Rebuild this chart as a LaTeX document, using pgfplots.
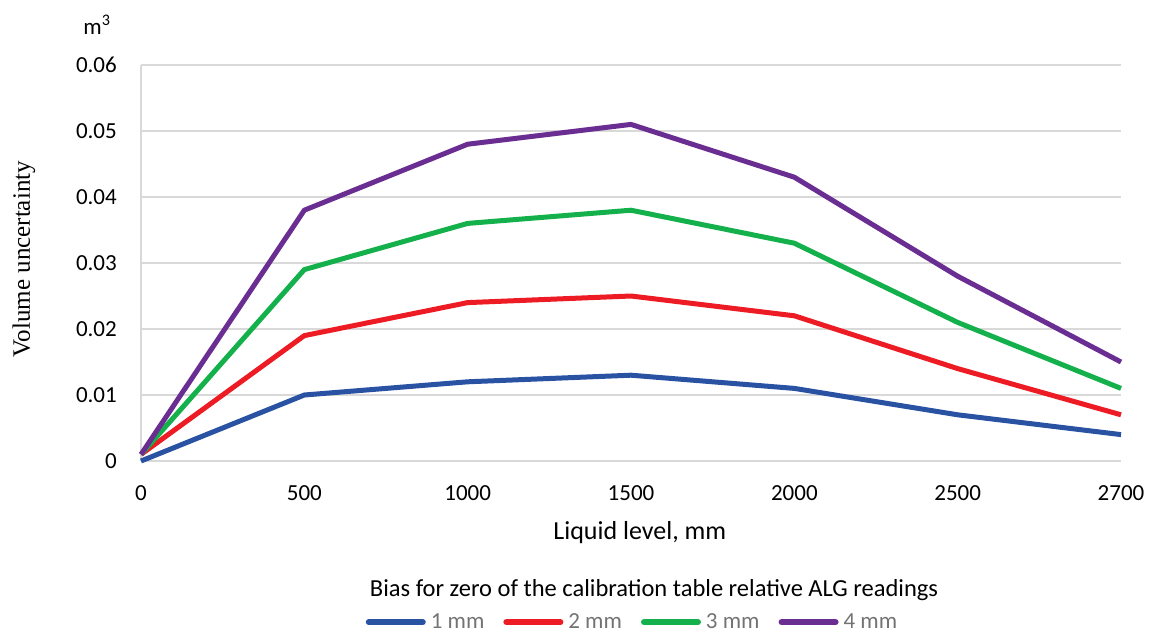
\documentclass[border=0pt]{standalone}
\usepackage{fontspec}
\setmainfont{Carlito}
\newfontfamily\timesfont{Liberation Serif}
\usepackage{pgfplots}
\pgfplotsset{compat=1.18}
\definecolor{cblue}{RGB}{41,82,163}
\definecolor{cred}{RGB}{237,28,36}
\definecolor{cgreen}{RGB}{20,176,76}
\definecolor{cpurple}{RGB}{106,45,145}
\definecolor{cgrid}{RGB}{217,217,217}
\definecolor{clegtext}{RGB}{115,115,115}
\begin{document}
\begin{tikzpicture}
\path[use as bounding box] (-141pt,-174pt) rectangle (1009pt,461pt);
\begin{axis}[
  scale only axis,
  width=980pt, height=396pt,
  xmin=0, xmax=6, ymin=0, ymax=0.06,
  scaled y ticks=false,
  xtick={0,1,2,3,4,5,6},
  xticklabels={0,500,1000,1500,2000,2500,2700},
  ytick={0,0.01,0.02,0.03,0.04,0.05,0.06},
  yticklabels={0,0.01,0.02,0.03,0.04,0.05,0.06},
  major tick length=0pt,
  axis lines*=left,
  x axis line style={draw=none},
  y axis line style={draw=cgrid, line width=1.3pt},
  ymajorgrids,
  major grid style={draw=cgrid, line width=1.3pt},
  tick label style={font=\fontsize{23}{28}\selectfont, text=black},
  yticklabel style={anchor=east, inner sep=0pt, xshift=-24pt},
  xticklabel style={anchor=north, inner sep=0pt, yshift=-24pt},
  xlabel={Liquid level, mm},
  xlabel style={at={(axis description cs:0.509,-0.1818)}, anchor=center, font=\fontsize{26}{30}\selectfont},
  ylabel={\timesfont Volume uncertainty},
  ylabel style={at={(axis description cs:-0.1194,0.510)}, anchor=center, rotate=0, font=\fontsize{25}{30}\selectfont},
  clip=false,
  legend columns=4,
  legend style={at={(axis description cs:0.501,-0.407)}, anchor=center, draw=none, fill=none,
    font=\fontsize{23}{28}\selectfont, text=clegtext,
    nodes={inner sep=1pt},
    /tikz/every odd column/.append style={column sep=4pt},
    /tikz/every even column/.append style={column sep=18pt}},
  legend image code/.code={\draw[#1, line width=6pt, line cap=round] (3pt,0pt) -- (57pt,0pt);},
  every axis plot/.append style={line width=5pt, line join=round, no markers},
]
\addplot[cblue] coordinates {(0,0) (1,0.010) (2,0.012) (3,0.013) (4,0.011) (5,0.007) (6,0.004)};
\addlegendentry{1 mm}
\addplot[cred] coordinates {(0,0.001) (1,0.019) (2,0.024) (3,0.025) (4,0.022) (5,0.014) (6,0.007)};
\addlegendentry{2 mm}
\addplot[cgreen] coordinates {(0,0.001) (1,0.029) (2,0.036) (3,0.038) (4,0.033) (5,0.021) (6,0.011)};
\addlegendentry{3 mm}
\addplot[cpurple] coordinates {(0,0.001) (1,0.038) (2,0.048) (3,0.051) (4,0.043) (5,0.028) (6,0.015)};
\addlegendentry{4 mm}
\node[font=\fontsize{23}{28}\selectfont] at (axis description cs:-0.0449,1.101) {m\textsuperscript{3}};
\node[font=\fontsize{24.5}{30}\selectfont] at (axis description cs:0.5235,-0.3258) {Bias for zero of the calibration table relative ALG readings};
\end{axis}
\end{tikzpicture}
\end{document}
